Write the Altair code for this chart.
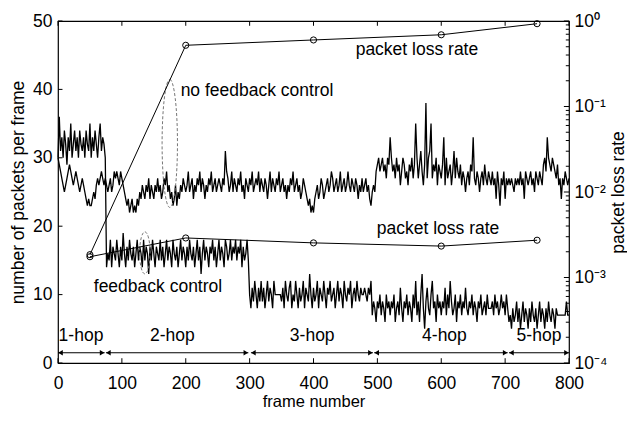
import altair as alt
import pandas as pd

# ---------------- data ----------------
FRAME_STEP = 2  # one sample every 2 frames, frames 0..800

# packets per frame, WITH feedback control (rows of 20 samples = 40 frames)
fb_packets = [
    30, 36, 31, 33, 30, 34, 32, 29, 33, 31, 35, 30, 32, 34, 31, 33, 30, 34, 32, 31,
    33, 30, 34, 32, 31, 35, 30, 33, 31, 34, 32, 30, 33, 35, 31, 33, 32, 30, 14, 16,
    15, 18, 14, 17, 16, 15, 18, 16, 14, 17, 15, 19, 16, 14, 17, 15, 18, 16, 15, 17,
    14, 16, 18, 15, 17, 16, 14, 18, 15, 17, 16, 13, 17, 15, 18, 16, 14, 17, 16, 15,
    18, 15, 17, 14, 16, 18, 15, 17, 16, 14, 18, 16, 15, 17, 14, 16, 18, 15, 17, 16,
    14, 17, 15, 18, 16, 15, 17, 14, 16, 18, 15, 17, 13, 16, 18, 15, 17, 16, 14, 17,
    16, 18, 15, 17, 14, 16, 18, 15, 17, 16, 14, 18, 17, 15, 16, 18, 15, 17, 16, 18,
    15, 17, 16, 18, 14, 17, 15, 16, 18, 15, 10, 8, 11, 9, 12, 10, 8, 11, 9, 12,
    9, 11, 8, 10, 12, 9, 11, 10, 8, 12, 10, 10, 10, 10, 10, 9, 11, 8, 12, 10,
    9, 11, 12, 8, 10, 9, 12, 10, 8, 11, 9, 10, 12, 8, 11, 10, 9, 13, 10, 8,
    11, 9, 10, 12, 8, 11, 10, 9, 12, 10, 8, 11, 10, 12, 9, 10, 11, 8, 10, 12,
    9, 11, 10, 8, 12, 10, 9, 11, 10, 12, 8, 10, 11, 9, 12, 10, 9, 11, 10, 10,
    11, 10, 9, 11, 10, 12, 7, 9, 8, 6, 9, 8, 10, 7, 9, 8, 6, 10, 8, 9,
    7, 9, 8, 10, 6, 8, 9, 7, 11, 8, 6, 9, 8, 10, 7, 9, 8, 6, 10, 8,
    12, 7, 9, 6, 10, 13, 8, 5, 9, 11, 8, 7, 10, 12, 8, 9, 6, 10, 8, 9,
    7, 9, 8, 11, 7, 10, 8, 12, 9, 7, 8, 10, 6, 9, 8, 10, 7, 9, 8, 11,
    8, 7, 9, 8, 10, 7, 9, 8, 6, 9, 8, 10, 7, 8, 9, 7, 10, 8, 8, 8,
    9, 7, 10, 8, 9, 7, 8, 10, 8, 9, 7, 10, 8, 6, 7, 5, 8, 6, 7, 9,
    6, 8, 5, 7, 9, 6, 8, 7, 5, 8, 6, 9, 7, 6, 8, 5, 7, 9, 6, 8,
    7, 5, 8, 6, 9, 7, 6, 8, 7, 5, 8, 7, 7, 7, 7, 7, 7, 7, 9, 7,
    7,
]

# packets per frame, WITHOUT feedback control (rows of 20 samples = 40 frames)
nf_packets = [
    30, 29, 28, 27, 26, 25, 26, 27, 28, 29, 28, 27, 26, 27, 28, 27, 26, 25, 26, 27,
    26, 25, 24, 23, 24, 23, 23, 24, 25, 24, 26, 27, 26, 27, 28, 27, 26, 27, 26, 25,
    26, 27, 25, 26, 28, 27, 28, 27, 26, 28, 27, 26, 25, 24, 23, 24, 22, 23, 24, 22,
    23, 22, 24, 23, 25, 24, 26, 25, 24, 26, 25, 27, 24, 26, 25, 24, 26, 25, 27, 25,
    26, 24, 25, 27, 26, 28, 25, 26, 24, 25, 23, 24, 26, 23, 25, 24, 26, 25, 27, 26,
    25, 26, 28, 25, 26, 27, 24, 26, 25, 27, 26, 28, 25, 27, 26, 24, 26, 25, 27, 26,
    28, 25, 26, 27, 25, 26, 27, 26, 25, 27, 26, 31, 28, 27, 25, 26, 28, 25, 27, 26,
    25, 27, 26, 28, 25, 26, 24, 27, 26, 25, 27, 26, 28, 25, 26, 27, 26, 28, 25, 27,
    26, 25, 27, 26, 24, 26, 28, 25, 27, 26, 25, 27, 26, 28, 25, 26, 27, 25, 26, 24,
    26, 25, 27, 26, 28, 25, 26, 27, 25, 26, 24, 25, 27, 26, 25, 24, 23, 24, 22, 23,
    22, 24, 25, 26, 24, 25, 27, 26, 24, 25, 26, 27, 25, 26, 28, 27, 25, 26, 27, 25,
    26, 28, 25, 26, 27, 25, 26, 28, 26, 25, 27, 26, 25, 27, 26, 24, 26, 25, 27, 25,
    26, 27, 25, 26, 24, 23, 25, 26, 25, 28, 29, 30, 28, 29, 30, 28, 29, 27, 30, 29,
    33, 30, 28, 29, 27, 30, 28, 29, 26, 28, 30, 29, 27, 28, 26, 29, 28, 30, 27, 29,
    35, 30, 27, 29, 31, 28, 26, 29, 38, 27, 30, 31, 35, 27, 29, 28, 30, 26, 29, 28,
    27, 29, 33, 26, 30, 27, 28, 29, 26, 28, 31, 27, 30, 28, 27, 29, 26, 28, 27, 25,
    27, 28, 26, 29, 28, 33, 27, 26, 28, 27, 25, 27, 28, 26, 29, 27, 26, 28, 27, 26,
    28, 26, 27, 24, 28, 26, 23, 27, 26, 28, 24, 27, 26, 27, 26, 27, 26, 25, 27, 26,
    27, 26, 28, 26, 27, 24, 28, 27, 26, 27, 28, 26, 27, 25, 28, 27, 26, 28, 27, 26,
    29, 30, 28, 33, 30, 29, 28, 30, 29, 28, 27, 29, 26, 27, 24, 27, 26, 28, 27, 26,
    27,
]

# packet loss rate (right, log axis)
loss_frames = [50, 200, 400, 600, 750]
loss_no_feedback = [1.85e-3, 0.52, 0.60, 0.69, 0.93]
loss_feedback = [1.75e-3, 2.9e-3, 2.54e-3, 2.33e-3, 2.73e-3]

# hop regions
hop_labels = ["1-hop", "2-hop", "3-hop", "4-hop", "5-hop"]
hop_label_x = [36, 179, 398, 605, 753]
hop_start = [0, 75, 302, 495, 706]
hop_end = [73, 298, 493, 704, 800]
HOP_TEXT_Y = 3.9
HOP_ARROW_Y = 1.5

# free text annotations (left aligned)
ann_text = ["packet loss rate", "no feedback control", "packet loss rate", "feedback control"]
ann_x = [466, 192, 499, 56]
ann_y = [45.7, 39.7, 19.6, 11.1]

# dashed ellipses (centre in data units)
ell_x = [175, 136]
ell_y = [32.1, 16.1]

x_ticks = list(range(0, 801, 100))
y_ticks = list(range(0, 51, 10))
decades = [1e-4, 1e-3, 1e-2, 1e-1, 1.0]
minor = [m * d for d in decades[:-1] for m in range(2, 10)]

# ---------------- styling ----------------
FONT = "Liberation Sans"
FS = 17.5

xscale = alt.Scale(domain=[0, 800], nice=False, zero=False)
yscale = alt.Scale(domain=[0, 50], nice=False, zero=False)
rscale = alt.Scale(type="log", domain=[1e-4, 1], nice=False)

xaxis = alt.Axis(values=x_ticks, title="frame number", tickSize=0, domain=False,
                 grid=False, labelPadding=11, titlePadding=2, labelFont=FONT,
                 titleFont=FONT, labelFontSize=FS, titleFontSize=16.5,
                 titleFontWeight="normal", labelColor="black", titleColor="black",
                 labelFlush=False)
yaxis = alt.Axis(values=y_ticks, title="number of packets per frame", tickSize=0,
                 domain=False, grid=False, labelPadding=6, titlePadding=5,
                 labelFont=FONT, titleFont=FONT, labelFontSize=FS, titleFontSize=FS,
                 titleFontWeight="normal", labelColor="black", titleColor="black",
                 labelFlush=False)
raxis = alt.Axis(orient="right", values=decades, title="packet loss rate", tickSize=0,
                 domain=False, grid=False, labelPadding=5, titlePadding=3,
                 labelFont=FONT, titleFont=FONT, labelFontSize=FS, titleFontSize=FS,
                 titleFontWeight="normal", labelColor="black", titleColor="black",
                 titleAngle=270, titleBaseline="top", labelFlush=False,
                 labelExpr="'10' + (datum.value >= 0.5 ? '⁰' : datum.value >= 0.05 ? '⁻¹' : "
                           "datum.value >= 0.005 ? '⁻²' : datum.value >= 0.0005 ? '⁻³' : '⁻⁴')")


def X(field, **kw):
    return alt.X(field, type="quantitative", scale=xscale, axis=xaxis, **kw)


def Y(field, **kw):
    return alt.Y(field, type="quantitative", scale=yscale, axis=yaxis, **kw)


def R(field, **kw):
    return alt.Y(field, type="quantitative", scale=rscale, axis=raxis, **kw)


# ---------------- left (linear) group ----------------
fb_df = pd.DataFrame({"frame": [i * FRAME_STEP for i in range(len(fb_packets))],
                      "packets": fb_packets})
nf_df = pd.DataFrame({"frame": [i * FRAME_STEP for i in range(len(nf_packets))],
                      "packets": nf_packets})

nf_line = alt.Chart(nf_df).mark_line(color="black", strokeWidth=1.3).encode(
    x=X("frame"), y=Y("packets"))
fb_line = alt.Chart(fb_df).mark_line(color="black", strokeWidth=1.3).encode(
    x=X("frame"), y=Y("packets"))

ann_df = pd.DataFrame({"x": ann_x, "y": ann_y, "t": ann_text})
ann = alt.Chart(ann_df).mark_text(align="left", baseline="middle", font=FONT,
                                  fontSize=FS, color="black").encode(
    x=X("x"), y=Y("y"), text="t:N")

hop_df = pd.DataFrame({"x": hop_label_x, "t": hop_labels, "y": [HOP_TEXT_Y] * 5})
hop_txt = alt.Chart(hop_df).mark_text(align="center", baseline="middle", font=FONT,
                                      fontSize=FS, color="black").encode(
    x=X("x"), y=Y("y"), text="t:N")

arr_df = pd.DataFrame({"s": hop_start, "e": hop_end, "y": [HOP_ARROW_Y] * 5})
arr = alt.Chart(arr_df).mark_rule(color="black", strokeWidth=1.2).encode(
    x=X("s"), x2="e", y=Y("y"))
head_l = alt.Chart(arr_df).mark_point(shape="triangle-left", filled=True, color="black",
                                      size=28, opacity=1, xOffset=2.5).encode(
    x=X("s"), y=Y("y"))
head_r = alt.Chart(arr_df).mark_point(shape="triangle-right", filled=True, color="black",
                                      size=28, opacity=1, xOffset=-2.5).encode(
    x=X("e"), y=Y("y"))


def ellipse_path(rx):
    k = 0.5523
    return (f"M0,-1 C{k*rx:.4f},-1 {rx:.4f},{-k:.4f} {rx:.4f},0 "
            f"C{rx:.4f},{k:.4f} {k*rx:.4f},1 0,1 "
            f"C{-k*rx:.4f},1 {-rx:.4f},{k:.4f} {-rx:.4f},0 "
            f"C{-rx:.4f},{-k:.4f} {-k*rx:.4f},-1 0,-1 Z")


ell1 = alt.Chart(pd.DataFrame({"x": [ell_x[0]], "y": [ell_y[0]]})).mark_point(
    shape=ellipse_path(0.12), size=128 * 128, color="#777777", strokeWidth=1,
    strokeDash=[3, 2], opacity=1, filled=False).encode(x=X("x"), y=Y("y"))
ell2 = alt.Chart(pd.DataFrame({"x": [ell_x[1]], "y": [ell_y[1]]})).mark_point(
    shape=ellipse_path(0.25), size=42 * 42, color="#777777", strokeWidth=1,
    strokeDash=[3, 2], opacity=1, filled=False).encode(x=X("x"), y=Y("y"))

# inward ticks (bottom, top, left)
bt_df = pd.DataFrame({"v": x_ticks})
tick_bottom = alt.Chart(bt_df).mark_rule(color="black").encode(
    x=X("v"), y=alt.datum(0, scale=yscale, axis=yaxis), y2=alt.datum(0.7))
tick_top = alt.Chart(bt_df).mark_rule(color="black").encode(
    x=X("v"), y=alt.datum(50, scale=yscale, axis=yaxis), y2=alt.datum(49.3))
lt_df = pd.DataFrame({"v": y_ticks})
tick_left = alt.Chart(lt_df).mark_rule(color="black").encode(
    y=Y("v"), x=alt.datum(0, scale=xscale, axis=xaxis), x2=alt.datum(7))

left = alt.layer(nf_line, fb_line, ell1, ell2, ann, hop_txt, arr, head_l, head_r,
                 tick_bottom, tick_top, tick_left)

# ---------------- right (log) group ----------------
loss_df = pd.DataFrame({
    "frame": loss_frames * 2,
    "rate": loss_no_feedback + loss_feedback,
    "series": ["no feedback"] * 5 + ["feedback"] * 5,
})
loss_line = alt.Chart(loss_df).mark_line(color="black", strokeWidth=1).encode(
    x=X("frame"), y=R("rate"), detail="series:N")
loss_pts = alt.Chart(loss_df).mark_point(shape="circle", color="black", size=38,
                                         strokeWidth=1, filled=False, opacity=1).encode(
    x=X("frame"), y=R("rate"), detail="series:N")

rmaj_df = pd.DataFrame({"v": decades})
rmin_df = pd.DataFrame({"v": minor})
tick_rmaj = alt.Chart(rmaj_df).mark_rule(color="black").encode(
    y=R("v"), x=alt.datum(800, scale=xscale, axis=xaxis), x2=alt.datum(792))
tick_rmin = alt.Chart(rmin_df).mark_rule(color="black").encode(
    y=R("v"), x=alt.datum(800, scale=xscale, axis=xaxis), x2=alt.datum(795))

right = alt.layer(loss_line, loss_pts, tick_rmaj, tick_rmin)

chart = alt.layer(left, right).resolve_scale(y="independent").properties(
    width=511, height=342,
    autosize=alt.AutoSizeParams(type="none"),
    padding={"left": 50, "top": 13, "right": 58, "bottom": 50},
    background="white",
).configure_view(stroke="black", strokeWidth=1.2)

chart.save("out.html", embed_options={"renderer": "svg", "actions": False})
